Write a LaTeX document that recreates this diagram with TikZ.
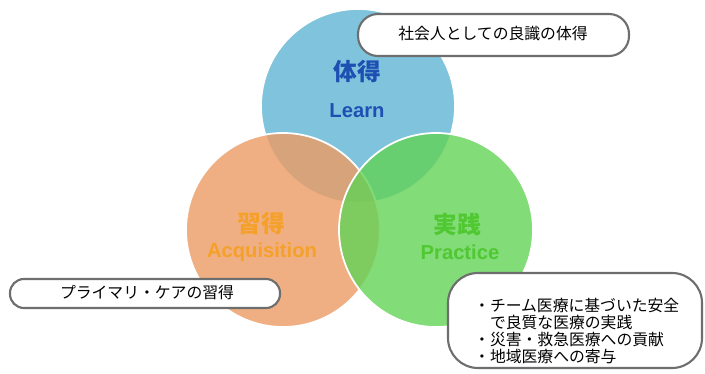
\documentclass[tikz,border=0pt]{standalone}
\usepackage{fontspec}
\setmainfont{Liberation Sans}
\newfontfamily\jp{Noto Sans CJK JP}
\usetikzlibrary{positioning}

\definecolor{learnfill}{RGB}{96,180,211}
\definecolor{acqfill}{RGB}{236,155,99}
\definecolor{pracfill}{RGB}{99,211,86}
\definecolor{learntext}{RGB}{30,80,180}
\definecolor{acqtext}{RGB}{245,160,40}
\definecolor{practext}{RGB}{80,200,50}
\definecolor{bubbleline}{RGB}{110,110,110}

\tikzset{
  ring/.style={circle, minimum size=194\pxu, inner sep=0pt, draw=white, line width=1pt, fill opacity=0.8},
  title/.style={font=\jp\bfseries\fontsize{13.5}{15}\selectfont},
  subtitle/.style={font=\bfseries\fontsize{11.5}{13}\selectfont},
  bubble/.style={draw=bubbleline, line width=1.2pt, fill=white, inner sep=0pt},
  bubbletext/.style={font=\jp\fontsize{9}{9.6}\selectfont}
}
\newlength{\pxu}
\setlength{\pxu}{0.02cm}

\begin{document}
\begin{tikzpicture}[x=0.02cm, y=-0.02cm]
        \useasboundingbox (0,0) rectangle (705,374);
        \node[ring, fill=learnfill] (learn) at (358,106) {};
        \node[ring, fill=acqfill] (acq) at (283,230) {};
        \node[ring, fill=pracfill] (prac) at (436,230) {};
        \node[title, text=learntext] (learnjp) at (357,72) {体得};
        \node[subtitle, text=learntext] (learnen) at (357,111) {Learn};
        \node[title, text=acqtext] (acqjp) at (261,224) {習得};
        \node[subtitle, text=acqtext] (acqen) at (262,252) {Acquisition};
        \node[title, text=practext] (pracjp) at (457,224) {実践};
        \node[subtitle, text=practext] (pracen) at (460,252) {Practice};
        \draw[bubble, rounded corners=20\pxu] (358,14) rectangle (629,56);
        \node[bubbletext] (goal) at (493,34) {社会人としての良識の体得};
        \draw[bubble, rounded corners=14\pxu] (10,279) rectangle (280,308);
        \node[bubbletext] (care) at (147,293) {プライマリ・ケアの習得};
        \draw[bubble, rounded corners=30\pxu] (448,273) rectangle (702,368);
        \node[bubbletext, align=left, anchor=north west] (team) at (468,292)
          {・チーム医療に基づいた安全\\\phantom{・}で良質な医療の実践\\・災害・救急医療への貢献\\・地域医療への寄与};
    \end{tikzpicture}
\end{document}
